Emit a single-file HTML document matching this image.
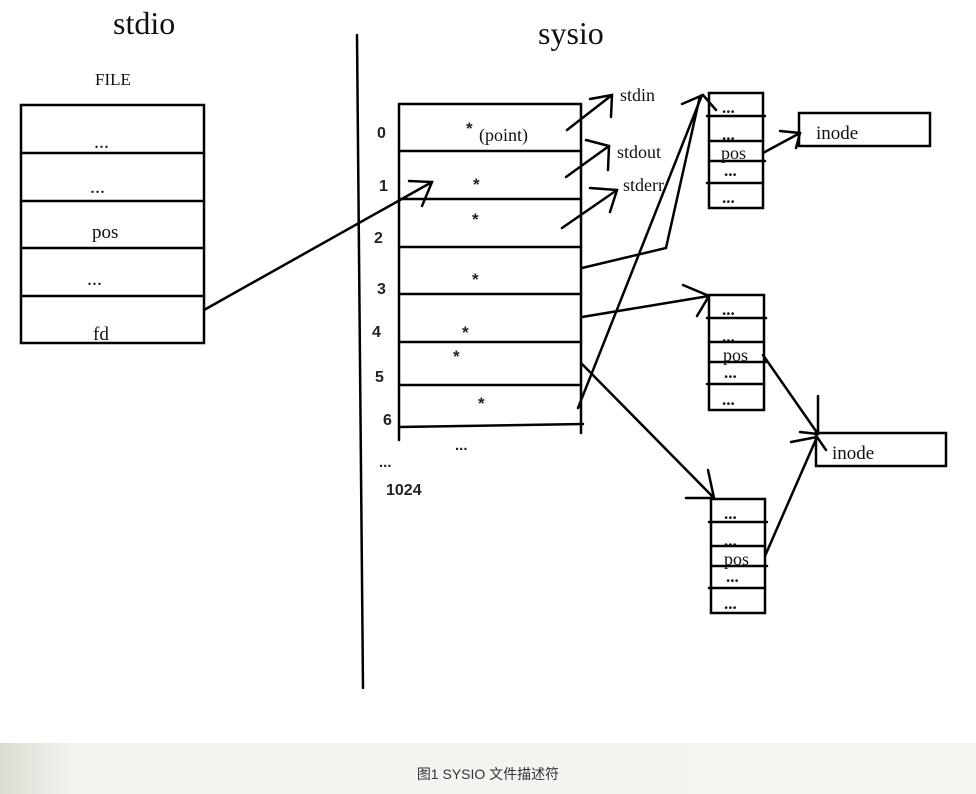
<!DOCTYPE html>
<html><head><meta charset="utf-8"><style>
html,body{margin:0;padding:0;background:#fff;}
body{width:976px;height:794px;position:relative;overflow:hidden;}
svg{position:absolute;left:0;top:0;}
.cap{position:absolute;left:0;top:743px;width:976px;height:51px;background:linear-gradient(to right,#dcdcd2 0px,#f2f2ee 70px,#f4f4f0 100%);}
.cap span{position:absolute;left:0;width:976px;top:21px;text-align:center;font:14px "Liberation Sans","Noto Sans CJK SC",sans-serif;color:#333;}
</style></head><body>
<svg width="976" height="743" viewBox="0 0 976 743" xmlns="http://www.w3.org/2000/svg">
<g fill="none" stroke="#000" stroke-width="2.5" stroke-linecap="round">
<rect x="21" y="105" width="183" height="238"/>
<path d="M21 153H204M21 201H204M21 248H204M21 296H204"/>
<path d="M357 35L363 688"/>
<path d="M399 104H581M399 151H581M399 199H581M399 247H581M399 294H581M399 342H581M399 385H581M399 427L583 424"/>
<path d="M399 104V440M581 104V433"/>
<path d="M204 310L432 182M409 181L432 182L422 206"/>
<path d="M567 130L612 95M590 99L612 95L611 117"/>
<path d="M566 177L609 146M586 140L609 146L608 170"/>
<path d="M562 228L617 190M590 188L617 190L610 212"/>
<path d="M582 268L666 248L700 96M682 104L703 95L716 110"/>
<path d="M578 408L702 95"/>
<path d="M582 317L709 296M683 285L709 296L697 316"/>
<path d="M581 363L714 498M708 470L714 498L686 498"/>
<rect x="709" y="93" width="54" height="115"/>
<path d="M707 116H765M709 141H763M709 161H765M707 183H763"/>
<path d="M763 153L800 133M780 131L800 133L796 148"/>
<rect x="799" y="113" width="131" height="33"/>
<rect x="709" y="295" width="55" height="115"/>
<path d="M707 318H766M709 342H764M709 362H766M707 384H764"/>
<rect x="711" y="499" width="54" height="114"/>
<path d="M709 522H767M711 546H765M711 566H767M709 588H765"/>
<rect x="816" y="433" width="130" height="33"/>
<path d="M763 355L818 434M818 396L818 434L800 432"/>
<path d="M765 556L817 437M791 442L817 437L826 450"/>
</g>
<g font-family="Liberation Serif, serif" fill="#111">
<text x="113" y="34" font-size="32">stdio</text>
<text x="95" y="85" font-size="17">FILE</text>
<text x="94" y="148" font-size="20">...</text>
<text x="90" y="193" font-size="20">...</text>
<text x="92" y="238" font-size="19">pos</text>
<text x="87" y="285" font-size="20">...</text>
<text x="93" y="340" font-size="19">fd</text>
<text x="538" y="44" font-size="32">sysio</text>
<text x="479" y="141" font-size="18">(point)</text>
<text x="620" y="101" font-size="18">stdin</text>
<text x="617" y="158" font-size="18">stdout</text>
<text x="623" y="191" font-size="18">stderr</text>
<text x="816" y="139" font-size="19">inode</text>
<text x="832" y="459" font-size="19">inode</text>
<text x="721" y="159" font-size="18">pos</text>
<text x="723" y="361" font-size="18">pos</text>
<text x="724" y="565" font-size="18">pos</text>
<g font-size="17" font-weight="bold">
<text x="722" y="113">...</text><text x="722" y="140">...</text><text x="724" y="176">...</text><text x="722" y="203">...</text>
<text x="722" y="315">...</text><text x="722" y="342">...</text><text x="724" y="378">...</text><text x="722" y="405">...</text>
<text x="724" y="519">...</text><text x="724" y="546">...</text><text x="726" y="582">...</text><text x="724" y="609">...</text>
</g>
</g>
<g font-family="Liberation Sans, sans-serif" font-weight="bold" fill="#222" font-size="16">
<text x="377" y="138">0</text>
<text x="379" y="191">1</text>
<text x="374" y="243">2</text>
<text x="377" y="294">3</text>
<text x="372" y="337">4</text>
<text x="375" y="382">5</text>
<text x="383" y="425">6</text>
<text x="386" y="495">1024</text>
<text x="379" y="467" font-size="15">...</text>
<text x="455" y="450" font-size="15">...</text>
<g font-size="17">
<text x="466" y="134">*</text>
<text x="473" y="190">*</text>
<text x="472" y="225">*</text>
<text x="472" y="285">*</text>
<text x="462" y="338">*</text>
<text x="453" y="362">*</text>
<text x="478" y="409">*</text>
</g>
</g>
</svg>
<div class="cap"><span>图1 SYSIO 文件描述符</span></div>
</body></html>
